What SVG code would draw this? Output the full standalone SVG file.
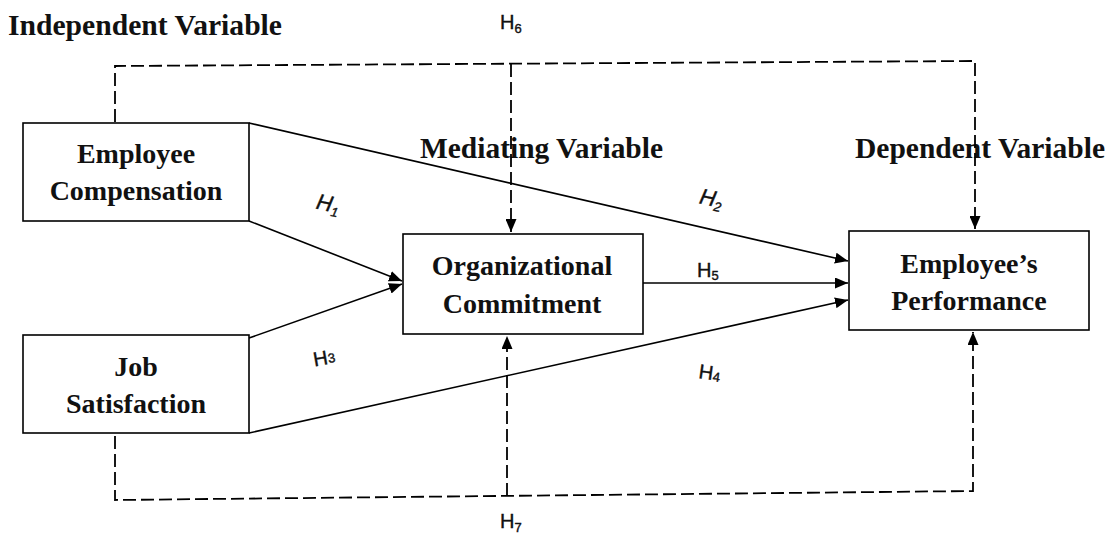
<svg xmlns="http://www.w3.org/2000/svg" width="1109" height="542" viewBox="0 0 1109 542">
<defs>
<style>
.box{fill:#fff;stroke:#000;stroke-width:1.6}
.t{font-family:"Liberation Serif","Times New Roman",serif;font-weight:bold;font-size:28px;fill:#111;text-anchor:middle}
.hd{font-family:"Liberation Serif","Times New Roman",serif;font-weight:bold;font-size:29px;fill:#111}
.h{font-family:"Liberation Sans",Arial,sans-serif;font-size:20px;fill:#111;stroke:#111;stroke-width:0.4}
.hi{font-family:"Liberation Sans",Arial,sans-serif;font-size:22px;font-style:italic;fill:#111;stroke:#111;stroke-width:0.4}
.sub{font-size:13px}
.sol{fill:none;stroke:#000;stroke-width:1.6}
.dash{fill:none;stroke:#000;stroke-width:1.8;stroke-dasharray:13 5}
</style>
<marker id="ah" viewBox="0 0 13 11" refX="13" refY="5.5" markerWidth="13" markerHeight="11" markerUnits="userSpaceOnUse" orient="auto">
<path d="M0,0 L13,5.5 L0,11 Z" fill="#000"/>
</marker>
</defs>
<rect width="1109" height="542" fill="#fff"/>

<text class="hd" x="8" y="35" textLength="274" lengthAdjust="spacingAndGlyphs">Independent Variable</text>
<text class="hd" x="420" y="158" textLength="243" lengthAdjust="spacingAndGlyphs">Mediating Variable</text>
<text class="hd" x="855" y="158" textLength="250" lengthAdjust="spacingAndGlyphs">Dependent Variable</text>

<g id="connectors">
<path class="dash" d="M115,122 L115,66 L975,61 L975,229" marker-end="url(#ah)"/>
<path class="dash" d="M511,64 L511,232" marker-end="url(#ah)"/>
<path class="dash" d="M115,436 L115,500 L973,491 L973,332" marker-end="url(#ah)"/>
<path class="dash" d="M507,496 L507,336" marker-end="url(#ah)"/>
<path class="sol" d="M249,123 L848,261" marker-end="url(#ah)"/>
<path class="sol" d="M249,221 L402,281" marker-end="url(#ah)"/>
<path class="sol" d="M249,338 L402,284" marker-end="url(#ah)"/>
<path class="sol" d="M643,283 L848,283" marker-end="url(#ah)"/>
<path class="sol" d="M249,433 L848,300" marker-end="url(#ah)"/>
</g>

<g id="n-comp">
<rect class="box" x="23" y="123" width="226" height="98"/>
<text class="t" x="136" y="163">Employee</text>
<text class="t" x="136" y="200">Compensation</text>
</g>
<g id="n-job">
<rect class="box" x="23" y="335" width="226" height="98"/>
<text class="t" x="136" y="376">Job</text>
<text class="t" x="136" y="413">Satisfaction</text>
</g>
<g id="n-org">
<rect class="box" x="403" y="234" width="240" height="100"/>
<text class="t" x="522" y="275">Organizational</text>
<text class="t" x="522" y="313">Commitment</text>
</g>
<g id="n-perf">
<rect class="box" x="849" y="231" width="240" height="99"/>
<text class="t" x="969" y="273">Employee’s</text>
<text class="t" x="969" y="310">Performance</text>
</g>

<g id="labels">
<text class="h" x="500" y="29">H<tspan class="sub" dy="4">6</tspan></text>
<text class="hi" x="317" y="211" transform="rotate(12 328 202)">H<tspan class="sub" dy="4">1</tspan></text>
<text class="hi" x="700" y="206" transform="rotate(12 712 197)">H<tspan class="sub" dy="4">2</tspan></text>
<text class="h" x="697" y="277">H<tspan class="sub" dy="3">5</tspan></text>
<text class="h" x="313" y="364" transform="rotate(-10 328 356)">H<tspan class="sub" dy="-1">3</tspan></text>
<text class="h" x="699" y="380" transform="rotate(8 712 372)">H<tspan class="sub" dy="1">4</tspan></text>
<text class="h" x="500" y="528">H<tspan class="sub" dy="4">7</tspan></text>
</g>
</svg>
